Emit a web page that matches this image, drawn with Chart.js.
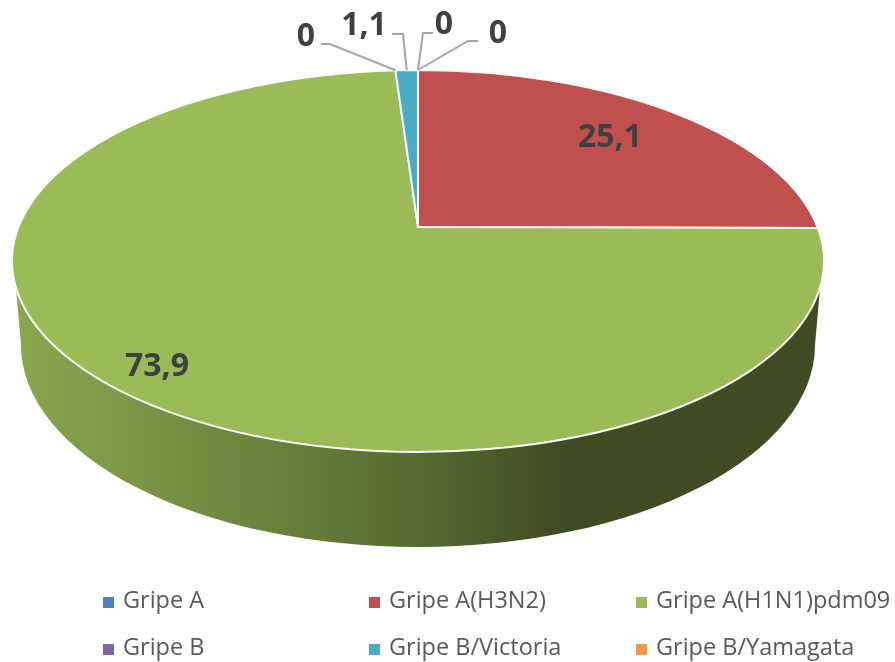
<!DOCTYPE html>
<html>
<head>
<meta charset="utf-8">
<script src="https://cdn.jsdelivr.net/npm/chart.js@4"></script>
<style>
html, body { margin: 0; padding: 0; background: #fff; }
canvas { display: block; }
</style>
</head>
<body>
<canvas id="chart" width="895" height="662"></canvas>
<script>
// Chart values
const categories = ['Gripe A', 'Gripe A(H3N2)', 'Gripe A(H1N1)pdm09', 'Gripe B', 'Gripe B/Victoria', 'Gripe B/Yamagata'];
const values = [0, 25.1, 73.9, 0, 1.1, 0];
const sliceColors = ['#4f81bd', '#c0504d', '#9bbb59', '#8064a2', '#4bacc6', '#f79646'];

// Tilted pie geometry: the apex sits above the centre of the rim ellipse
const apex = { x: 418, y: 227 };
const rim = { x: 418, y: 261, rx: 406, ry: 191 };
const base = { x: 418, y: 345, rx: 397, ry: 202 };
const tilt = 0.48;

// Label placement, same order as categories
const labelBoxes = [
    { x: 498, y: 34, path: [[478, 41], [468, 41]] },
    { x: 610, y: 138 },
    { x: 157, y: 367 },
    { x: 306, y: 37, path: [[321, 44], [330, 44]] },
    { x: 364, y: 26, path: [[392, 34], [403, 34]] },
    { x: 444, y: 25, path: [[433, 33], [423, 33]] }
];
const legendColumns = [103, 369, 636];
const legendRows = [601, 648];

// Map a pie angle (0 = top, clockwise) to the parametric angle on the rim ellipse
function rimAngle(theta) {
    const dx = Math.sin(theta);
    const dy = -tilt * Math.cos(theta);
    const ox = (apex.x - rim.x) / rim.rx, oy = (apex.y - rim.y) / rim.ry;
    const ux = dx / rim.rx, uy = dy / rim.ry;
    const a = ux * ux + uy * uy;
    const b = 2 * (ox * ux + oy * uy);
    const c = ox * ox + oy * oy - 1;
    const s = (-b + Math.sqrt(b * b - 4 * a * c)) / (2 * a);
    return Math.atan2((oy + s * uy), (ox + s * ux));
}

function rimPoint(t) {
    return [rim.x + rim.rx * Math.cos(t), rim.y + rim.ry * Math.sin(t)];
}

function drawWall(ctx) {
    const t = 0.14;
    const grad = ctx.createLinearGradient(14, 0, 822, 0);
    grad.addColorStop(0, '#8ba74f');
    grad.addColorStop(0.25, '#708a41');
    grad.addColorStop(0.5, '#576a32');
    grad.addColorStop(0.68, '#3f4b22');
    grad.addColorStop(1, '#3f4b22');
    ctx.beginPath();
    ctx.ellipse(rim.x, rim.y, rim.rx, rim.ry, 0, t, Math.PI - t);
    ctx.ellipse(base.x, base.y, base.rx, base.ry, 0, Math.PI, 0, true);
    ctx.closePath();
    ctx.fillStyle = grad;
    ctx.fill();
}

function drawSlice(ctx, arc, color) {
    const t0 = rimAngle(arc.startAngle + Math.PI / 2);
    const t1 = rimAngle(arc.endAngle + Math.PI / 2);
    ctx.beginPath();
    ctx.moveTo(apex.x, apex.y);
    ctx.ellipse(rim.x, rim.y, rim.rx, rim.ry, 0, t0, t1);
    ctx.closePath();
    ctx.fillStyle = color;
    ctx.fill();
    ctx.strokeStyle = '#fbfbfb';
    ctx.lineWidth = 2;
    ctx.stroke();
}

function drawLabels(ctx, meta) {
    ctx.textAlign = 'center';
    ctx.textBaseline = 'middle';
    values.forEach((value, i) => {
        const box = labelBoxes[i];
        const arc = meta.data[i];
        if (box.path) {
            const mid = (arc.startAngle + arc.endAngle) / 2 + Math.PI / 2;
            const tip = rimPoint(rimAngle(mid));
            ctx.beginPath();
            ctx.moveTo(box.path[0][0], box.path[0][1]);
            ctx.lineTo(box.path[1][0], box.path[1][1]);
            ctx.lineTo(tip[0], tip[1]);
            ctx.strokeStyle = '#a6a6a6';
            ctx.lineWidth = 2;
            ctx.stroke();
        }
        ctx.font = 'bold 32px "Open Sans"';
        ctx.fillStyle = '#404040';
        ctx.fillText(String(value).replace('.', ','), box.x, box.y);
    });
}

function drawLegend(ctx) {
    ctx.textAlign = 'left';
    ctx.textBaseline = 'middle';
    ctx.font = '23.5px "Open Sans"';
    categories.forEach((name, i) => {
        const x = legendColumns[i % 3];
        const y = legendRows[Math.floor(i / 3)];
        ctx.fillStyle = sliceColors[i];
        ctx.fillRect(x, y - 4, 11, 11);
        ctx.fillStyle = '#595959';
        ctx.fillText(name, x + 20, y);
    });
}

// Paints the library's computed arcs as a tilted pie
const tiltedPie = {
    id: 'tiltedPie',
    beforeDatasetsDraw(chart) {
        const ctx = chart.ctx;
        const meta = chart.getDatasetMeta(0);
        ctx.save();
        drawWall(ctx);
        meta.data.forEach((arc, i) => {
            if (arc.endAngle - arc.startAngle > 0) {
                drawSlice(ctx, arc, sliceColors[i]);
            }
        });
        drawLabels(ctx, meta);
        drawLegend(ctx);
        ctx.restore();
        return false;
    }
};

new Chart(document.getElementById('chart'), {
    type: 'pie',
    data: {
        labels: categories,
        datasets: [{ data: values, backgroundColor: sliceColors }]
    },
    options: {
        responsive: false,
        animation: false,
        plugins: {
            legend: { display: false },
            tooltip: { enabled: false }
        }
    },
    plugins: [tiltedPie]
});
</script>
</body>
</html>
